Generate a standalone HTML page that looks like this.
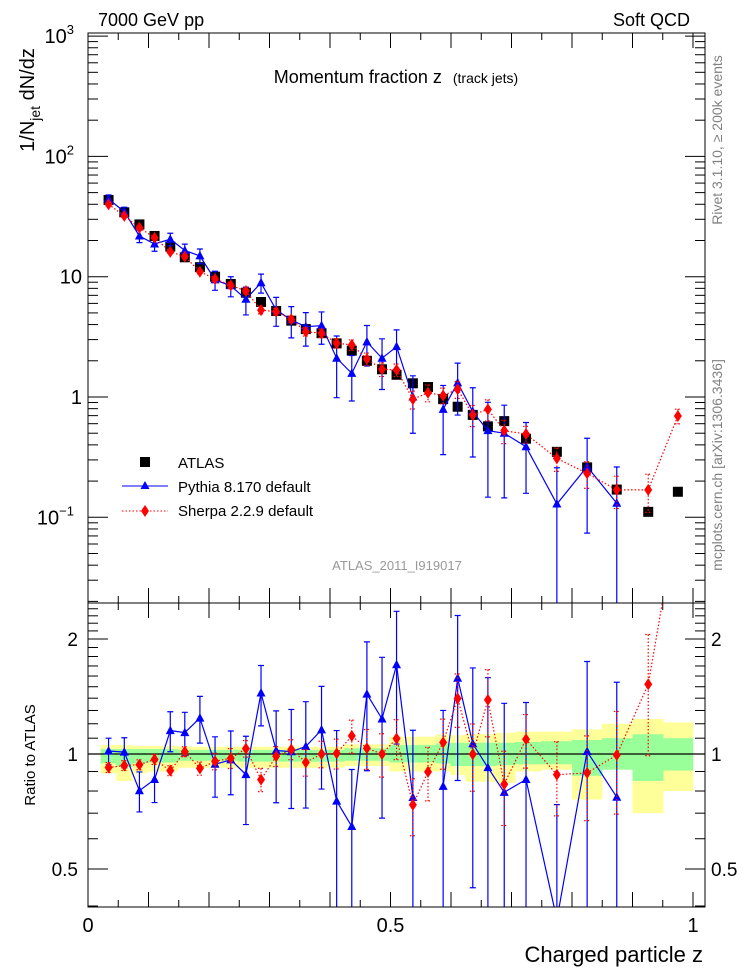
<!DOCTYPE html>
<html><head><meta charset="utf-8"><style>
html,body{margin:0;padding:0;background:#fff;width:746px;height:972px;overflow:hidden}
svg{display:block;font-family:"Liberation Sans",sans-serif}
</style></head><body>
<svg id="chart" width="746" height="972" viewBox="0 0 746 972" xmlns="http://www.w3.org/2000/svg">
<defs>
<clipPath id="cm"><rect x="88" y="33" width="617" height="570"/></clipPath>
<clipPath id="cr"><rect x="88" y="603" width="617" height="304"/></clipPath>
</defs>
<g id="bands" clip-path="url(#cr)"></g>
<g id="axes"></g>
<g id="mainMarks" clip-path="url(#cm)"></g>
<g id="ratioMarks" clip-path="url(#cr)"></g>
<rect x="88" y="33" width="617" height="570" fill="none" stroke="#000" stroke-width="1"/>
<rect x="88" y="603" width="617" height="304" fill="none" stroke="#000" stroke-width="1"/>
<text x="98" y="26" font-size="18">7000 GeV pp</text>
<text x="690" y="26" font-size="18" text-anchor="end">Soft QCD</text>
<text x="396" y="83" font-size="18" text-anchor="middle">Momentum fraction z <tspan font-size="14" dx="6">(track jets)</tspan></text>
<text transform="translate(34,100) rotate(-90)" font-size="20" text-anchor="middle">1/N<tspan font-size="14" dy="6">jet</tspan><tspan dy="-6"> dN/dz</tspan></text>
<text transform="translate(35,755) rotate(-90)" font-size="15" text-anchor="middle">Ratio to ATLAS</text>
<text x="703" y="962" font-size="22" text-anchor="end">Charged particle z</text>
<text transform="translate(722,140) rotate(-90)" font-size="14" fill="#808080" text-anchor="middle">Rivet 3.1.10, ≥ 200k events</text>
<text transform="translate(722,465) rotate(-90)" font-size="14" fill="#808080" text-anchor="middle">mcplots.cern.ch [arXiv:1306.3436]</text>
<text x="397" y="570" font-size="13" fill="#999" text-anchor="middle">ATLAS_2011_I919017</text>
<g>
<rect x="140" y="457" width="10" height="10" fill="#000"/>
<text x="178" y="468" font-size="15">ATLAS</text>
<line x1="122" y1="486" x2="168" y2="486" stroke="#00f"/>
<path d="M145,481 L149.5,489 L140.5,489Z" fill="#00f"/>
<text x="178" y="492" font-size="15">Pythia 8.170 default</text>
<line x1="122" y1="511" x2="168" y2="511" stroke="#f00" stroke-dasharray="1.5,2"/>
<path d="M145,505 L149,511 L145,517 L141,511Z" fill="#f00"/>
<text x="178" y="516" font-size="15">Sherpa 2.2.9 default</text>
</g>
</svg>
<script>
const zCenters=[0.034,0.060,0.085,0.110,0.136,0.160,0.185,0.210,0.236,0.261,0.286,0.311,0.336,0.360,0.386,0.411,0.436,0.461,0.486,0.510,0.537,0.562,0.587,0.611,0.636,0.661,0.688,0.724,0.775,0.825,0.874,0.926,0.975];
const atlasValues=[43.4,34.3,27.2,21.8,17.8,14.5,12.0,10.0,8.7,7.36,6.16,5.19,4.31,3.67,3.39,2.79,2.43,2.0,1.70,1.53,1.30,1.21,0.96,0.83,0.71,0.57,0.63,0.45,0.35,0.26,0.17,0.111,0.163];
const pythiaValues=[44.2,34.7,21.8,18.7,20.5,16.5,14.9,9.4,8.4,6.5,8.9,5.3,4.37,3.84,3.92,2.10,1.57,2.87,2.10,2.62,1.0,null,0.79,1.31,0.755,0.525,0.50,0.386,0.129,0.264,0.131,null,null];
const pythiaRelErr=[0.08,0.09,0.12,0.13,0.12,0.13,0.14,0.18,0.19,0.26,0.18,0.27,0.29,0.31,0.30,0.53,0.41,0.37,0.45,0.38,0.50,null,0.58,0.46,0.58,0.72,0.71,0.59,1.0,0.72,1.0,null,null];
const sherpaValues=[40.0,32.0,25.5,21.1,16.1,14.7,11.0,9.57,8.48,7.60,5.28,5.12,4.43,3.49,3.39,2.80,2.71,2.07,1.70,1.68,0.957,1.086,1.03,1.16,0.709,0.790,0.525,0.492,0.309,0.232,0.169,0.169,0.695];
const sherpaRelErr=[0.03,0.03,0.03,0.03,0.03,0.03,0.04,0.05,0.06,0.05,0.07,0.06,0.06,0.08,0.08,0.09,0.10,0.12,0.13,0.12,0.17,0.16,0.15,0.16,0.20,0.20,0.22,0.16,0.22,0.25,0.30,0.35,0.14];
const bandTotUp=[1.056,1.056,1.05,1.05,1.05,1.045,1.045,1.045,1.045,1.045,1.045,1.045,1.045,1.045,1.045,1.045,1.06,1.06,1.06,1.11,1.11,1.11,1.125,1.12,1.128,1.128,1.137,1.144,1.144,1.16,1.2,1.235,1.21];
const bandTotDn=[0.89,0.85,0.89,0.90,0.90,0.92,0.92,0.92,0.92,0.92,0.92,0.92,0.92,0.92,0.92,0.92,0.93,0.93,0.93,0.90,0.90,0.90,0.90,0.88,0.846,0.846,0.84,0.90,0.91,0.76,0.91,0.70,0.80];
const bandStatUp=[1.03,1.03,1.03,1.03,1.03,1.025,1.025,1.025,1.025,1.025,1.025,1.025,1.025,1.025,1.025,1.025,1.035,1.035,1.035,1.055,1.055,1.055,1.066,1.07,1.07,1.07,1.07,1.075,1.08,1.088,1.1,1.126,1.10];
const bandStatDn=[0.945,0.925,0.945,0.95,0.95,0.96,0.96,0.96,0.96,0.955,0.955,0.955,0.955,0.955,0.955,0.955,0.96,0.96,0.96,0.95,0.95,0.95,0.945,0.93,0.93,0.93,0.935,0.94,0.94,0.877,0.91,0.85,0.905];
const mainTickLabels=["10","10","10","1","10"];
const mainTickExp=["3","2","","",""];
const ratioTickValues=[0.5,1,2];
const ratioTickLabels=["0.5","1","2"];
const xTickLabels=["0","0.5","1"];

const NS="http://www.w3.org/2000/svg";
const xs=z=>88+605*z;
const ym=v=>397-120.3*Math.log10(v);
const yr=r=>754-382*Math.log10(r);
function mk(tag,attrs,parent){const e=document.createElementNS(NS,tag);for(const k in attrs)e.setAttribute(k,attrs[k]);parent.appendChild(e);return e;}
const axes=document.getElementById('axes');
const bands=document.getElementById('bands');
const mm=document.getElementById('mainMarks');
const rm=document.getElementById('ratioMarks');

const edges=[];
for(let i=0;i<=zCenters.length;i++){
  if(i===0)edges.push(zCenters[0]-(zCenters[1]-zCenters[0])/2);
  else if(i===zCenters.length)edges.push(zCenters[i-1]+(zCenters[i-1]-zCenters[i-2])/2);
  else edges.push((zCenters[i-1]+zCenters[i])/2);
}
for(let i=0;i<zCenters.length;i++){
  const x0=xs(edges[i]),x1=xs(edges[i+1]);
  const t=mk('rect',{x:x0,y:yr(bandTotUp[i]),width:x1-x0+0.5,height:yr(bandTotDn[i])-yr(bandTotUp[i]),fill:'#ffff99'},bands);
  
  
}
for(let i=0;i<zCenters.length;i++){
  const x0=xs(edges[i]),x1=xs(edges[i+1]);
  const s=mk('rect',{x:x0,y:yr(bandStatUp[i]),width:x1-x0+0.5,height:yr(bandStatDn[i])-yr(bandStatUp[i]),fill:'#99ff99'},bands);
  
  
}
const one=mk('line',{x1:88,x2:705,y1:yr(1),y2:yr(1),stroke:'#000','stroke-width':1.2},bands);



for(let d=-2;d<=3;d++){
  for(let m=1;m<10;m++){
    const v=m*Math.pow(10,d);const y=ym(v);
    if(y<33||y>603)continue;
    const L=m===1?20:10;
    mk('line',{x1:88,x2:88+L,y1:y,y2:y,stroke:'#000'},axes);
    mk('line',{x1:705,x2:705-L,y1:y,y2:y,stroke:'#000'},axes);
  }
}
const decs=[3,2,1,0,-1];
decs.forEach((d,i)=>{
  const y=ym(Math.pow(10,d));
  const t=mk('text',{x:mainTickExp[i]||d===-1?74:82,y:y+7,'font-size':20,'text-anchor':'end'},axes);
  
  
  t.textContent=mainTickLabels[i];
  if(d===-1){mk('tspan',{'font-size':13,dy:-9},t).textContent='−1';}
  else if(mainTickExp[i]){mk('tspan',{'font-size':13,dy:-9},t).textContent=mainTickExp[i];}
});
for(let k=0;k<=20;k++){
  const z=k*0.05;const x=xs(z);
  const L=k%2===0?15:7;
  mk('line',{x1:x,x2:x,y1:603,y2:603-L,stroke:'#000'},axes);
  mk('line',{x1:x,x2:x,y1:33,y2:33+L,stroke:'#000'},axes);
  mk('line',{x1:x,x2:x,y1:907,y2:907-L,stroke:'#000'},axes);
  mk('line',{x1:x,x2:x,y1:603,y2:603+L,stroke:'#000'},axes);
}
[0,0.5,1].forEach((z,i)=>{
  const t=mk('text',{x:xs(z),y:932,'font-size':20,'text-anchor':'middle'},axes);
  
  
  t.textContent=xTickLabels[i];
});
for(let k=4;k<=24;k++){
  const r=k/10;const y=yr(r);
  if(y<603||y>907)continue;
  const major=(k===5||k===10||k===20);
  const L=major?20:10;
  mk('line',{x1:88,x2:88+L,y1:y,y2:y,stroke:'#000'},axes);
  mk('line',{x1:705,x2:705-L,y1:y,y2:y,stroke:'#000'},axes);
}
ratioTickValues.forEach((r,i)=>{
  const y=yr(r)+7;
  const a=mk('text',{x:78,y:y,'font-size':19,'text-anchor':'end'},axes);
  
  
  a.textContent=ratioTickLabels[i];
  const b=mk('text',{x:711,y:y,'font-size':19,'text-anchor':'start'},axes);
  
  
  b.textContent=ratioTickLabels[i];
});

function drawSeries(parent,vals,errs,yf,color,dashed,marker,name){
  let d='';let pen=false;
  vals.forEach((v,i)=>{
    if(v===null||!(v>0)){pen=false;return;}
    d+=(pen?'L':'M')+xs(zCenters[i]).toFixed(1)+','+Math.min(yf(v),1000).toFixed(1);pen=true;
  });
  const ln=mk('path',{d:d,fill:'none',stroke:color,'stroke-width':1.2},parent);
  if(dashed)ln.setAttribute('stroke-dasharray','1.5,2');
  
  
  vals.forEach((v,i)=>{
    if(v===null||!(v>0))return;
    const x=xs(zCenters[i]),y=yf(v);
    if(errs&&errs[i]!==null){
      const hi=v*(1+errs[i]),lo=v*(1-errs[i]);
      const yh=Math.max(yf(hi),0),yl=lo>0?Math.min(yf(lo),1000):1000;
      const eb=mk('path',{d:`M${x},${yh}L${x},${yl}M${x-3},${yh}L${x+3},${yh}M${x-3},${yl}L${x+3},${yl}`,stroke:color,fill:'none','stroke-width':1.2},parent);
      if(dashed)eb.setAttribute('stroke-dasharray','1.5,2');
      
      
    }
    if(y>1000||y<0)return;
    let m;
    if(marker==='sq')m=mk('rect',{x:x-5,y:y-5,width:10,height:10,fill:color},parent);
    else if(marker==='tri')m=mk('path',{d:`M${x},${y-5}L${x+4.5},${y+3.5}L${x-4.5},${y+3.5}Z`,fill:color},parent);
    else m=mk('path',{d:`M${x},${y-6}L${x+4},${y}L${x},${y+6}L${x-4},${y}Z`,fill:color},parent);
    
    
  });
}
atlasValues.forEach((v,i)=>{
  const x=xs(zCenters[i]),y=ym(v);
  const m=mk('rect',{x:x-5,y:y-5,width:10,height:10,fill:'#000'},mm);
  
  
});
drawSeries(mm,pythiaValues,pythiaRelErr,ym,'#0000ff',false,'tri','pythia');
drawSeries(mm,sherpaValues,sherpaRelErr,ym,'#ff0000',true,'dia','sherpa');
const pyRatio=pythiaValues.map((v,i)=>v===null?null:v/atlasValues[i]);
const shRatio=sherpaValues.map((v,i)=>v===null?null:v/atlasValues[i]);
drawSeries(rm,pyRatio,pythiaRelErr,yr,'#0000ff',false,'tri','pythia-ratio');
drawSeries(rm,shRatio,sherpaRelErr,yr,'#ff0000',true,'dia','sherpa-ratio');
</script>
</body></html>
